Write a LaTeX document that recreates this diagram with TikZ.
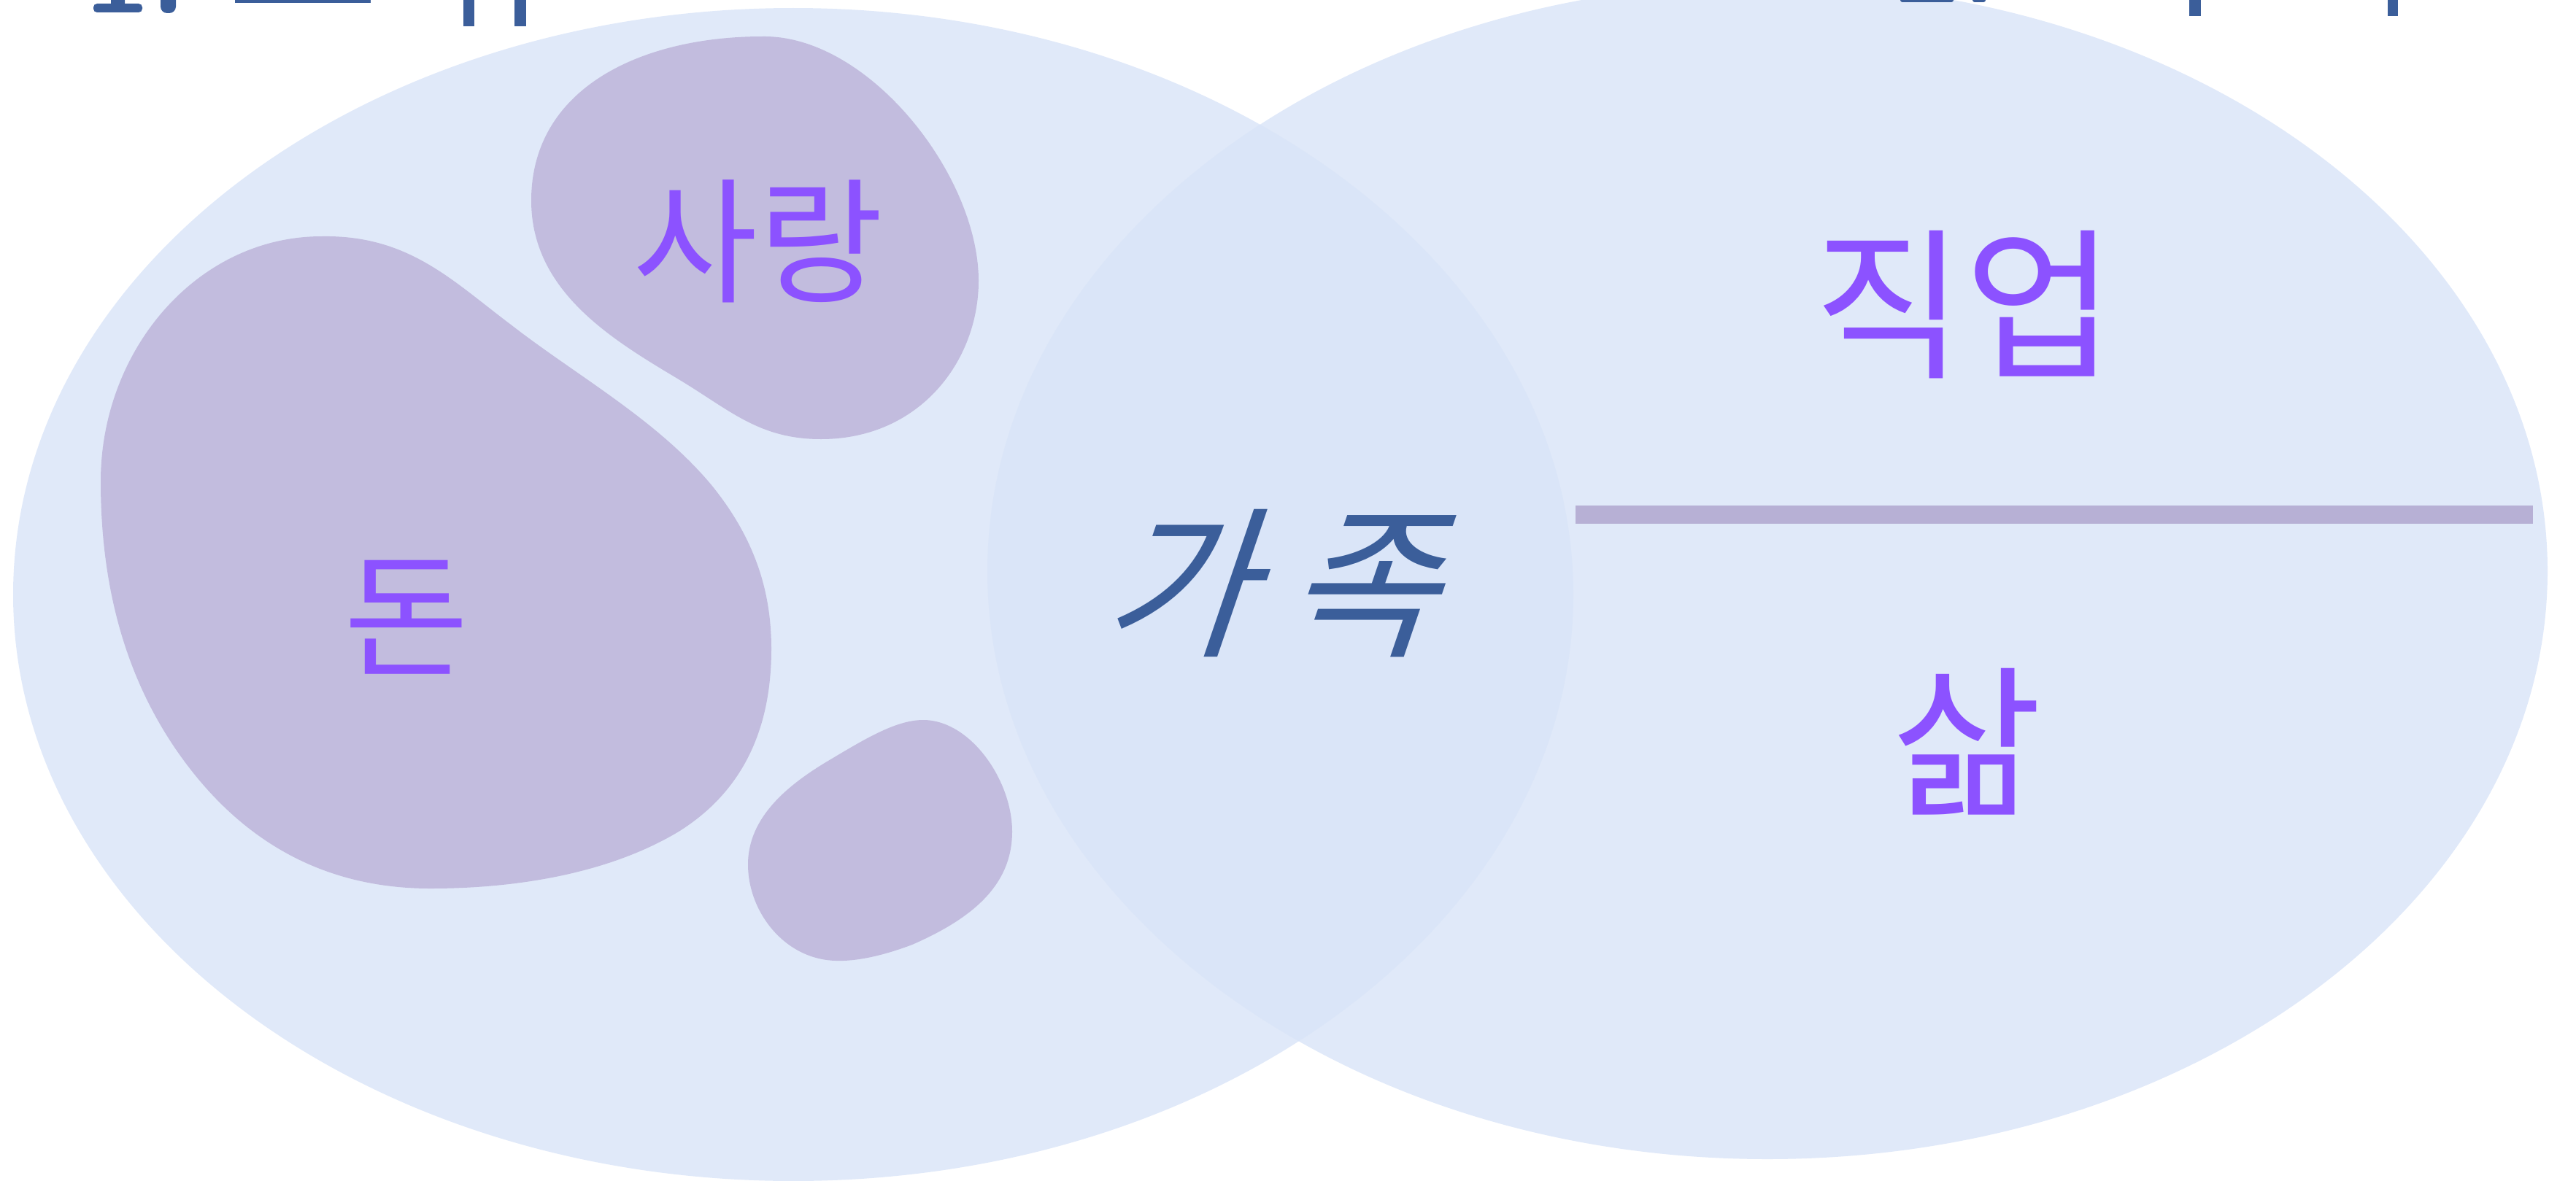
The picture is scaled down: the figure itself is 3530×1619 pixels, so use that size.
\documentclass[tikz,border=0pt]{standalone}
\usepackage{fontspec}
\newfontfamily\kr{Noto Sans CJK KR}
\definecolor{ell}{HTML}{E0E9F9}
\definecolor{ellov}{HTML}{DAE5F8}
\definecolor{blob}{HTML}{C2BCDE}
\definecolor{ptxt}{HTML}{8C52FF}
\definecolor{btxt}{HTML}{3B5E9A}
\definecolor{barc}{HTML}{B7B0D5}
\begin{document}
\begin{tikzpicture}[x=1pt,y=-1pt,
  blobshape/.style={fill=blob},
  small/.style={text=ptxt, inner sep=0pt, font=\kr\fontsize{186}{186}\selectfont},
  big/.style={text=ptxt, inner sep=0pt, font=\kr\fontsize{224}{224}\selectfont},
  frag/.style={fill=btxt}]
\useasboundingbox (0,0) rectangle (3530,1619);
\clip (0,0) rectangle (3530,1619);
% ellipses
\fill[ell] (1087,815) ellipse [x radius=1069, y radius=804];
\fill[ell] (2422,783) ellipse [x radius=1069, y radius=806];
\begin{scope}
  \clip (1087,815) ellipse [x radius=1069, y radius=804];
  \fill[ellov] (2422,783) ellipse [x radius=1069, y radius=806];
\end{scope}
% blobs
\fill[blobshape] (1045,50) .. controls (1190,48) and (1341,240) .. (1341,385)
  .. controls (1341,495) and (1260,602) .. (1125,602)
  .. controls (1040,602) and (1000,562) .. (930,520)
  .. controls (840,466) and (728,400) .. (728,275)
  .. controls (728,120) and (880,50) .. (1045,50) -- cycle;
\fill[blobshape] (441,324) .. controls (560,322) and (620,385) .. (700,445)
  .. controls (790,515) and (900,575) .. (975,665)
  .. controls (1040,745) and (1057,820) .. (1057,890)
  .. controls (1057,1010) and (1010,1090) .. (930,1140)
  .. controls (830,1200) and (700,1218) .. (590,1218)
  .. controls (440,1218) and (330,1150) .. (250,1040)
  .. controls (170,930) and (138,800) .. (138,660)
  .. controls (138,480) and (270,324) .. (441,324) -- cycle;
\fill[blobshape] (1265,987) .. controls (1330,987) and (1387,1070) .. (1387,1140)
  .. controls (1387,1215) and (1330,1260) .. (1250,1295)
  .. controls (1205,1312) and (1170,1318) .. (1145,1317)
  .. controls (1075,1315) and (1025,1250) .. (1025,1185)
  .. controls (1025,1120) and (1080,1075) .. (1140,1040)
  .. controls (1190,1010) and (1230,987) .. (1265,987) -- cycle;
% divider bar
\fill[barc] (2159,693) rectangle (3471,718);
% labels
\node[small] (love) at (1039,331) {사랑};
\node[small] (money) at (557,846) {돈};
\node[big] (job) at (2692,418) {직업};
\node[big] (life) at (2696,1017) {삶};
\begin{scope}[shift={(1765,800)}, xslant=0.34]
  \node[transform shape, text=btxt, inner sep=0pt, font=\kr\fontsize{224}{224}\selectfont] (family) at (0,0) {가\hspace{45pt}족};
\end{scope}
% cut-off title fragments at the top edge
\fill[frag, rounded corners=5] (152,-20) rectangle (171,12);
\fill[frag, rounded corners=5] (128,5) rectangle (195,17);
\fill[frag, rounded corners=9] (220,-20) rectangle (241,18);
\fill[frag] (322,-20) rectangle (508,4);
\fill[frag] (635,-20) rectangle (650,36);
\fill[frag] (705,-20) rectangle (721,36);
\fill[frag, rounded corners=3] (2604,-20) rectangle (2677,3);
\fill[frag, rounded corners=3] (2703,-20) rectangle (2721,3);
\fill[frag] (3000,-20) rectangle (3016,22);
\fill[frag] (3272,-20) rectangle (3286,22);
\end{tikzpicture}
\end{document}
